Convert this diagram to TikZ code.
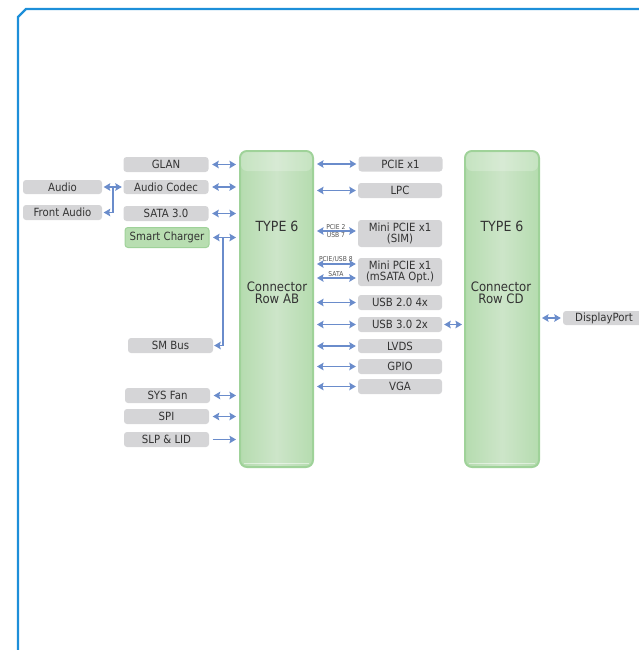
\documentclass[tikz,border=0pt]{standalone}
\usepackage{fontspec}
\setmainfont{DejaVu Sans}[FakeStretch=0.9]
\usetikzlibrary{arrows.meta,calc}
\definecolor{framec}{HTML}{1D8FD9}
\definecolor{boxgray}{HTML}{D5D5D7}
\definecolor{txt}{HTML}{333333}
\definecolor{arrc}{HTML}{6A8CCB}
\definecolor{gfill}{HTML}{CDE5C9}
\definecolor{gedge}{HTML}{B5DCAF}
\definecolor{gborder}{HTML}{9FD299}
\definecolor{chfill}{HTML}{B8DEB1}
\tikzset{
  >={Stealth[length=6.5pt,width=7.5pt,inset=1pt]},
  gbox/.style={rectangle, rounded corners=3pt, fill=boxgray, text=txt,
    font=\fontsize{11.3}{11.5}\selectfont, inner sep=0pt, minimum height=15pt,
    minimum width=84pt, align=center},
  chbox/.style={gbox, fill=chfill, draw=gborder, line width=1pt},
  conbox/.style={rectangle, rounded corners=7pt, draw=gborder, line width=2pt,
    left color=gedge, right color=gedge, middle color=gfill,
    minimum width=73pt, minimum height=316pt, inner sep=0pt},
  bigtxt/.style={text=txt, font=\fontsize{14}{12}\selectfont, inner sep=0pt, align=center},
  midtxt/.style={text=txt, font=\fontsize{13}{12}\selectfont, inner sep=0pt, align=center},
  tinytxt/.style={text=txt!85, font=\fontsize{6.7}{7}\selectfont, inner sep=0.8pt},
  wire/.style={draw=arrc, line width=1.9pt},
  lconn/.style={wire, <->, shorten <=3.5pt, shorten >=3pt},
  rconn/.style={wire, <->, shorten <=3pt, shorten >=2pt},
}
\begin{document}
\begin{tikzpicture}[x=1pt,y=-1pt]
\useasboundingbox (0,0) rectangle (639,650);
% frame
\draw[framec, line width=2.2pt] (18,653) -- (18,17) -- (26,9) -- (642,9);

% connector blocks
\node[conbox] (ab) at (276.5,309) {};
\node[conbox, minimum width=74pt] (cd) at (502,309) {};
\foreach \b in {ab,cd}{
  \fill[white, opacity=0.22, rounded corners=6pt]
    ([xshift=2pt,yshift=-2pt]\b.north west) rectangle ([xshift=-2pt,yshift=-21pt]\b.north east);
  \draw[white, opacity=0.5, line width=0.8pt]
    ([xshift=5pt,yshift=5pt]\b.south west) -- ([xshift=-5pt,yshift=5pt]\b.south east);
}
\node[bigtxt] (abt) at (277,226) {TYPE 6};
\node[midtxt] (abc) at (277,293) {Connector\\Row AB};
\node[bigtxt] (cdt) at (502,226) {TYPE 6};
\node[midtxt] (cdc) at (501,293) {Connector\\Row CD};

% left boxes
\node[gbox, minimum width=85pt] (glan) at (166,164.5) {GLAN};
\node[gbox, minimum width=85pt, minimum height=14pt] (codec) at (166,187) {Audio Codec};
\node[gbox, minimum width=85pt] (sata) at (166,213.5) {SATA 3.0};
\node[chbox, minimum width=84pt, minimum height=20pt] (charger) at (167,237.5) {Smart Charger};
\node[gbox, minimum width=85pt] (smbus) at (170.5,345.5) {SM Bus};
\node[gbox, minimum width=85pt] (sysfan) at (167.5,395.5) {SYS Fan};
\node[gbox, minimum width=85pt] (spi) at (166.5,416.5) {SPI};
\node[gbox, minimum width=85pt] (slp) at (166.5,439.5) {SLP \& LID};
\node[gbox, minimum width=79pt, minimum height=14pt] (audio) at (62.5,187) {Audio};
\node[gbox, minimum width=79pt] (faudio) at (62.5,212.5) {Front Audio};

% right boxes
\node[gbox] (pcie) at (400.5,164) {PCIE x1};
\node[gbox] (lpc) at (400,190.5) {LPC};
\node[gbox, minimum height=27pt] (sim) at (400,233.5) {Mini PCIE x1\\(SIM)};
\node[gbox, minimum height=28pt] (msata) at (400,272) {Mini PCIE x1\\(mSATA Opt.)};
\node[gbox] (usb2) at (400,302.5) {USB 2.0 4x};
\node[gbox] (usb3) at (400,324.5) {USB 3.0 2x};
\node[gbox, minimum height=14pt] (lvds) at (400,346) {LVDS};
\node[gbox] (gpio) at (400,366.5) {GPIO};
\node[gbox] (vga) at (400,386.5) {VGA};
\node[gbox, minimum width=82pt, minimum height=14pt] (dp) at (604,318) {DisplayPort};

% left connectors
\foreach \n in {glan,codec,sata,charger,sysfan,spi}{
  \draw[lconn] (\n.east) -- (\n.east -| ab.west);
}
\draw[wire, ->, shorten <=3.5pt, shorten >=3pt] (slp.east) -- (slp.east -| ab.west);

% audio bracket
\draw[wire, <->, shorten <=1.5pt, shorten >=1.5pt] (codec.west) -- (audio.east);
\coordinate (br) at (113,187);
\draw[wire, ->, shorten >=1.5pt] (br) |- (faudio.east);

% smart charger to SM bus
\coordinate (sc) at (223,237.5);
\draw[wire, ->, shorten >=1pt] (sc) |- (smbus.east);

% right connectors
\foreach \n in {pcie,lpc,usb2,usb3,lvds,gpio,vga}{
  \draw[rconn] (\n.west -| ab.east) -- (\n.west);
}
\draw[rconn] ([yshift=2.5pt]sim.west -| ab.east) --
  node[tinytxt, above] (l1) {PCIE 2} node[tinytxt, below] (l2) {USB 7}
  ([yshift=2.5pt]sim.west);
\draw[rconn] ([yshift=8pt]msata.west -| ab.east) --
  node[tinytxt, above] (l3) {PCIE/USB 8}
  ([yshift=8pt]msata.west);
\draw[rconn] ([yshift=-6pt]msata.west -| ab.east) --
  node[tinytxt, above] (l4) {SATA}
  ([yshift=-6pt]msata.west);

% row CD connectors
\draw[wire, <->, shorten <=2pt, shorten >=2pt] (usb3.east) -- (usb3.east -| cd.west);
\draw[wire, <->, shorten <=2pt, shorten >=2pt] (dp.west -| cd.east) -- (dp.west);
\end{tikzpicture}
\end{document}
